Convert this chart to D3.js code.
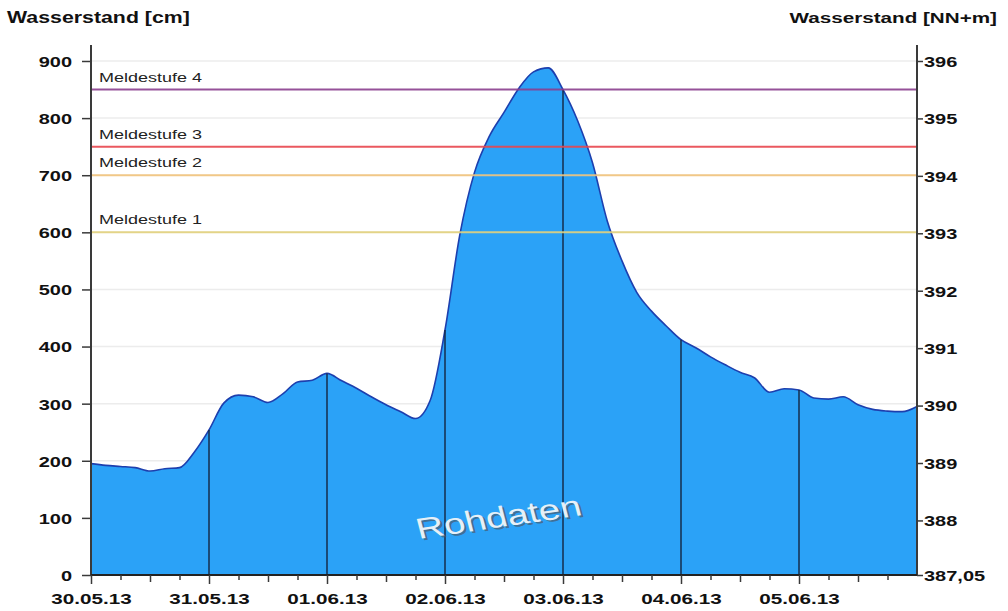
<!DOCTYPE html>
<html>
<head>
<meta charset="utf-8">
<script src="https://cdn.jsdelivr.net/npm/d3@7"></script>
<style>
  body { margin: 0; background: #fff; }
  svg { display: block; font-family: "Liberation Sans", Arial, sans-serif; }
</style>
</head>
<body>
<svg id="chart" width="1008" height="611"></svg>
<script>
(function () {
  'use strict';

  // readings every 3 hours, 30.05.13 00:00 .. 06.06.13 00:00 (cm)
  var startTime = '2013-05-30T00:00:00Z';
  var endTime = '2013-06-06T00:00:00Z';
  var levels = [
    195, 192, 190, 188, 182, 186, 188, 215,
    254, 301, 315, 312, 302, 317, 338, 341,
    353, 340, 327, 312, 298, 286, 274, 306,
    429, 595, 705, 768, 810, 852, 881, 888,
    850, 795, 722, 620, 550, 495, 462, 436,
    412, 398, 382, 368, 355, 345, 320, 326,
    324, 310, 308, 312, 298, 290, 287, 286,
    295
  ];

  var cmTicks = [0, 100, 200, 300, 400, 500, 600, 700, 800, 900];
  var nnTicks = [387.05, 388, 389, 390, 391, 392, 393, 394, 395, 396];

  var stageNames = ['Meldestufe 1', 'Meldestufe 2', 'Meldestufe 3', 'Meldestufe 4'];
  var stageValues = [600, 700, 750, 850];
  var stageColors = ['#e2d27c', '#f2c47c', '#e8464e', '#8b3e8e'];

  var SX = 1.333; // the whole picture is stretched sideways

  var svg = d3.select('#chart');
  var left = 91, right = 917, top = 45, bottom = 575;

  var t0 = new Date(startTime), t1 = new Date(endTime);
  var times = d3.utcHour.every(3).range(t0, d3.utcHour.offset(t1, 1));
  var data = times.map(function(t, i) { return { t: t, v: levels[i] }; });

  var x = d3.scaleUtc().domain([t0, t1]).range([left, right]);
  var y = d3.scaleLinear().domain([0, 928]).range([bottom, top]);
  var yR = d3.scaleLinear().domain([387.05, 396]).range([bottom, y(900)]);

  // faint grid
  svg.append('g').selectAll('line')
    .data(cmTicks.slice(1))
    .join('line')
    .attr('x1', left).attr('x2', right)
    .attr('y1', function(d) { return y(d); })
    .attr('y2', function(d) { return y(d); })
    .attr('stroke', '#ececec').attr('stroke-width', 1.5);

  // water level area
  var area = d3.area()
    .x(function(d) { return x(d.t); })
    .y0(bottom)
    .y1(function(d) { return y(d.v); })
    .curve(d3.curveMonotoneX);
  var line = d3.line()
    .x(function(d) { return x(d.t); })
    .y(function(d) { return y(d.v); })
    .curve(d3.curveMonotoneX);

  svg.append('path').datum(data)
    .attr('d', area)
    .attr('fill', '#2ba2f7');
  svg.append('path').datum(data)
    .attr('d', line)
    .attr('fill', 'none')
    .attr('stroke', '#1d3fae')
    .attr('stroke-width', 1.6);

  // day lines up to the curve
  var days = data.filter(function(d) {
    return d.t.getUTCHours() === 0 && d.t > t0 && d.t < t1;
  });
  svg.append('g').selectAll('line')
    .data(days)
    .join('line')
    .attr('x1', function(d) { return x(d.t); })
    .attr('x2', function(d) { return x(d.t); })
    .attr('y1', bottom)
    .attr('y2', function(d) { return y(d.v); })
    .attr('stroke', '#14253f').attr('stroke-width', 1.4);

  // warning stages
  var stages = stageValues.map(function(v, i) {
    return { v: v, name: stageNames[i], color: stageColors[i] };
  });
  svg.append('g').selectAll('line')
    .data(stages)
    .join('line')
    .attr('x1', left).attr('x2', right)
    .attr('y1', function(d) { return y(d.v); })
    .attr('y2', function(d) { return y(d.v); })
    .attr('stroke', function(d) { return d.color; })
    .attr('stroke-opacity', 0.9)
    .attr('stroke-width', 2);
  svg.append('g').selectAll('text')
    .data(stages)
    .join('text')
    .attr('transform', function(d) {
      return 'translate(' + 99 + ',' + (y(d.v) - 8) + ') scale(' + SX + ',1)';
    })
    .attr('font-size', 13.5)
    .attr('fill', '#222')
    .text(function(d) { return d.name; });

  // axes
  var axL = svg.append('g')
    .attr('transform', 'translate(' + left + ',0)')
    .call(d3.axisLeft(y).tickValues(cmTicks).tickSize(9).tickFormat(d3.format('d')));
  axL.select('.domain').attr('d', 'M0,' + top + 'V' + bottom)
    .attr('stroke', '#3a3a3a').attr('stroke-width', 2);
  axL.selectAll('.tick line').attr('stroke', '#3a3a3a').attr('stroke-width', 1.5);
  axL.selectAll('.tick text')
    .attr('x', 0).attr('dy', '0.36em')
    .attr('transform', 'translate(-19,0) scale(' + SX + ',1)')
    .attr('font-size', 15).attr('font-weight', 'bold')
    .attr('font-family', null).attr('fill', '#111');

  var axR = svg.append('g')
    .attr('transform', 'translate(' + right + ',0)')
    .call(d3.axisRight(yR).tickValues(nnTicks).tickSize(6)
      .tickFormat(function(d) { return d % 1 ? d3.format('.2f')(d).replace('.', ',') : d; }));
  axR.select('.domain').attr('d', 'M0,' + top + 'V' + bottom)
    .attr('stroke', '#3a3a3a').attr('stroke-width', 2);
  axR.selectAll('.tick line').attr('stroke', '#3a3a3a').attr('stroke-width', 1.5);
  axR.selectAll('.tick text')
    .attr('x', 0).attr('dy', '0.36em')
    .attr('transform', 'translate(7,0) scale(' + SX + ',1)')
    .attr('font-size', 15).attr('font-weight', 'bold')
    .attr('font-family', null).attr('fill', '#111');

  var xTicks = d3.utcHour.every(6).range(t0, t1);
  var axB = svg.append('g')
    .attr('transform', 'translate(0,' + bottom + ')')
    .call(d3.axisBottom(x).tickValues(xTicks).tickSize(0)
      .tickFormat(function(d) { return d.getUTCHours() === 0 ? d3.utcFormat('%d.%m.%y')(d) : ''; }));
  axB.select('.domain').attr('d', 'M' + left + ',0H' + right)
    .attr('stroke', '#222').attr('stroke-width', 2);
  axB.selectAll('.tick line')
    .attr('y2', function(d) {
      var h = d.getUTCHours();
      return h === 0 ? 9 : (h === 12 ? 7 : 5);
    })
    .attr('stroke', '#3a3a3a').attr('stroke-width', 1.5);
  axB.selectAll('.tick text')
    .attr('y', 0).attr('dy', null)
    .attr('transform', 'translate(0,29) scale(' + SX + ',1)')
    .attr('font-size', 15.5).attr('font-weight', 'bold')
    .attr('font-family', null).attr('fill', '#111');

  // titles
  svg.append('text')
    .attr('transform', 'translate(7,23) scale(' + SX + ',1)')
    .attr('font-size', 16).attr('font-weight', 'bold').attr('fill', '#111')
    .text('Wasserstand [cm]');
  svg.append('text')
    .attr('transform', 'translate(997,23) scale(' + SX + ',1)')
    .attr('text-anchor', 'end')
    .attr('font-size', 15.5).attr('font-weight', 'bold').attr('fill', '#111')
    .text('Wasserstand [NN+m]');

  // watermark
  var mark = svg.append('g')
    .attr('transform', 'translate(501,527) scale(' + SX + ',1) rotate(-11)');
  mark.append('text')
    .attr('x', 1.5).attr('y', 2)
    .attr('text-anchor', 'middle')
    .attr('font-size', 29).attr('fill', '#4a5a6a').attr('fill-opacity', 0.7)
    .text('Rohdaten');
  mark.append('text')
    .attr('text-anchor', 'middle')
    .attr('font-size', 29).attr('fill', '#e6f0f8')
    .text('Rohdaten');
})();
</script>
</body>
</html>
